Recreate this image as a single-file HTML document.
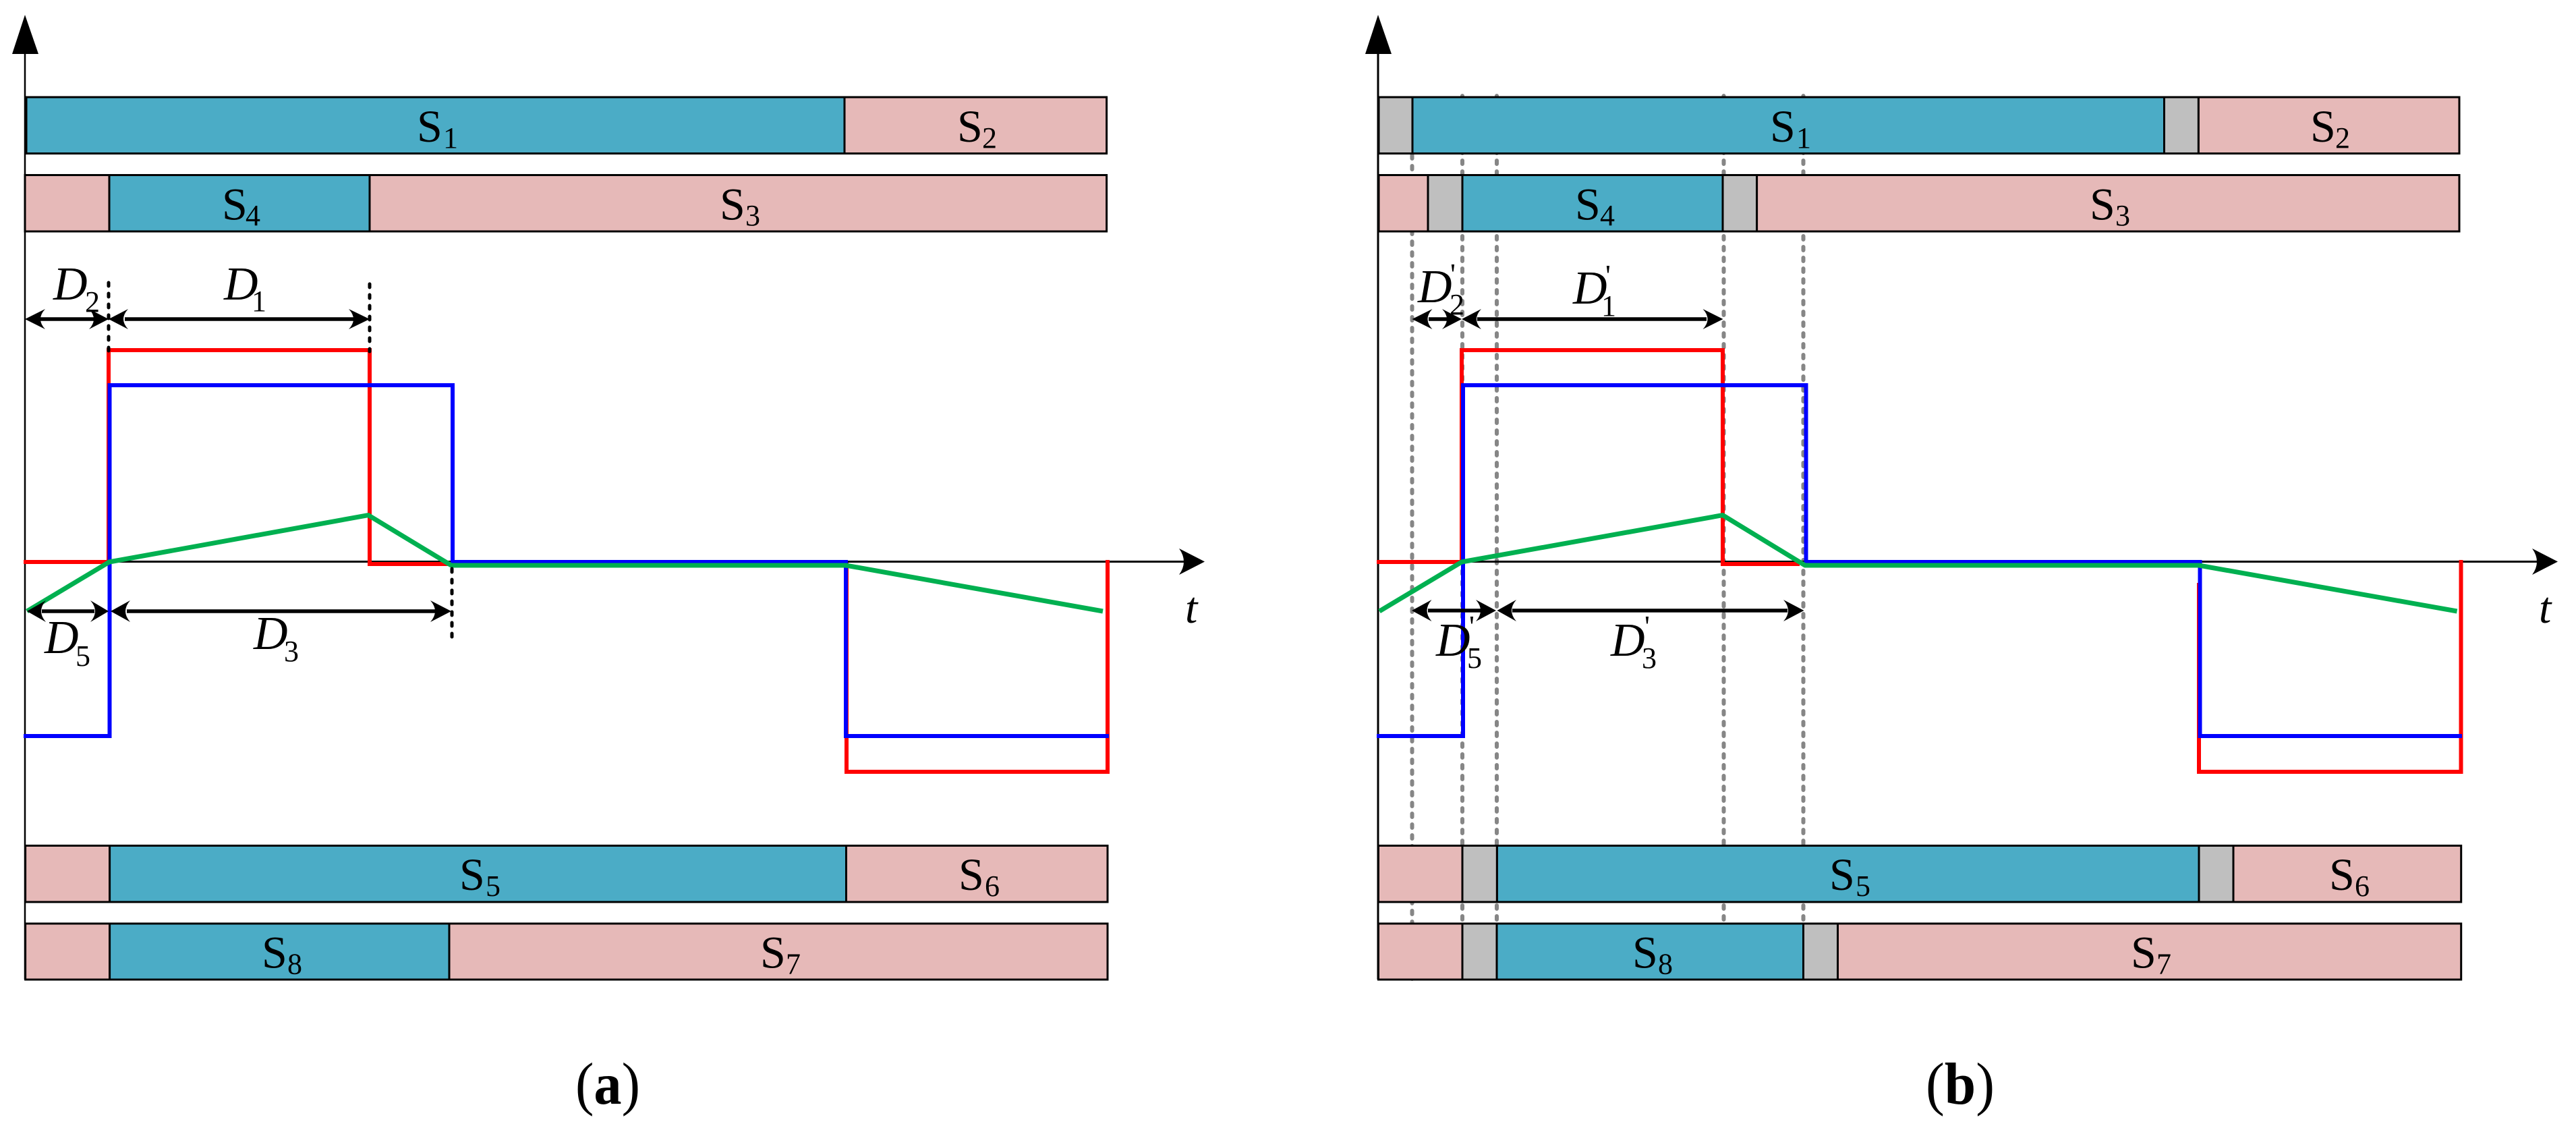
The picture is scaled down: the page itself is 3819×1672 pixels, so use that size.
<!DOCTYPE html>
<html>
<head>
<meta charset="utf-8">
<style>
html,body{margin:0;padding:0;background:#fff;}
svg{display:block;}
text{font-family:"Liberation Serif",serif;fill:#000;}
.s{font-size:68px;}
.n{font-size:44px;}
.d{font-size:70px;font-style:italic;}
.t{font-size:66px;font-style:italic;}
.c{font-size:88px;}
.b{fill:#4BACC6;stroke:#000;stroke-width:3;}
.r{fill:#E6B9B8;stroke:#000;stroke-width:3;}
.g{fill:#BFBFBF;stroke:#000;stroke-width:3;}
.gd{stroke:#868686;stroke-width:6;stroke-dasharray:5 11;stroke-linecap:round;fill:none;}
.kd{stroke:#000;stroke-width:5;stroke-dasharray:5 11;stroke-linecap:round;fill:none;}
.red{stroke:#FF0000;stroke-width:6;fill:none;stroke-linejoin:miter;}
.blue{stroke:#0000FF;stroke-width:6;fill:none;stroke-linejoin:miter;}
.green{stroke:#00B050;stroke-width:7;fill:none;stroke-linejoin:round;}
.ax{stroke:#000;fill:none;}
.dim{stroke:#000;stroke-width:5.5;fill:none;}
</style>
</head>
<body>
<svg width="3819" height="1672" viewBox="0 0 3819 1672" xmlns="http://www.w3.org/2000/svg">
<rect x="0" y="0" width="3819" height="1672" fill="#fff"/>

<!-- grey guides (b) -->
<line class="gd" x1="2093.5" y1="230" x2="2093.5" y2="1456"/>
<line class="gd" x1="2168" y1="142" x2="2168" y2="1368"/>
<line class="gd" x1="2219" y1="142" x2="2219" y2="1368"/>
<line class="gd" x1="2555.5" y1="142" x2="2555.5" y2="1368"/>
<line class="gd" x1="2673.5" y1="142" x2="2673.5" y2="1368"/>

<!-- y axes -->
<line class="ax" stroke-width="2.5" x1="37" y1="78" x2="37" y2="1452"/>
<polygon points="37,22 57,80 18,80" fill="#000"/>
<line class="ax" stroke-width="3" x1="2043" y1="78" x2="2043" y2="1452"/>
<polygon points="2043,22 2063,80 2024,80" fill="#000"/>

<!-- bars left -->
<rect class="b" x="39" y="144" width="1213" height="83.5" stroke-width="4"/>
<rect class="r" x="1252" y="144" width="388.6" height="83.5"/>
<rect class="r" x="37" y="259.5" width="125" height="83.5"/>
<rect class="b" x="162" y="259.5" width="386" height="83.5"/>
<rect class="r" x="548" y="259.5" width="1092.6" height="83.5"/>
<rect class="r" x="37.6" y="1253.5" width="125" height="83.5"/>
<rect class="b" x="162.6" y="1253.5" width="1091.9" height="83.5"/>
<rect class="r" x="1254.5" y="1253.5" width="387.5" height="83.5"/>
<rect class="r" x="37.6" y="1369" width="125" height="83"/>
<rect class="b" x="162.6" y="1369" width="503.4" height="83"/>
<rect class="r" x="666" y="1369" width="976" height="83"/>

<!-- bars right -->
<rect class="g" x="2044" y="144" width="50" height="83.5"/>
<rect class="b" x="2094" y="144" width="1114.5" height="83.5"/>
<rect class="g" x="3208.5" y="144" width="50.9" height="83.5"/>
<rect class="r" x="3259.4" y="144" width="386.6" height="83.5"/>
<rect class="r" x="2044" y="259.5" width="73" height="83.5"/>
<rect class="g" x="2117" y="259.5" width="51" height="83.5"/>
<rect class="b" x="2168" y="259.5" width="386" height="83.5"/>
<rect class="g" x="2554" y="259.5" width="50.6" height="83.5"/>
<rect class="r" x="2604.6" y="259.5" width="1041.4" height="83.5"/>
<rect class="r" x="2043.5" y="1253.5" width="124.5" height="83.5"/>
<rect class="g" x="2168" y="1253.5" width="51.4" height="83.5"/>
<rect class="b" x="2219.4" y="1253.5" width="1040.6" height="83.5"/>
<rect class="g" x="3260" y="1253.5" width="51" height="83.5"/>
<rect class="r" x="3311" y="1253.5" width="337.7" height="83.5"/>
<rect class="r" x="2043.5" y="1369" width="124.5" height="83"/>
<rect class="g" x="2168" y="1369" width="51" height="83"/>
<rect class="b" x="2219" y="1369" width="454.5" height="83"/>
<rect class="g" x="2673.5" y="1369" width="51" height="83"/>
<rect class="r" x="2724.5" y="1369" width="924.2" height="83"/>

<!-- x axes -->
<line class="ax" stroke-width="3" x1="37" y1="832.5" x2="1755" y2="832.5"/>
<path d="M1786,832.5 L1748,813 Q1762,832.5 1748,852 Z" fill="#000"/>
<line class="ax" stroke-width="3" x1="2043" y1="832.5" x2="3761" y2="832.5"/>
<path d="M3792,832.5 L3754,813 Q3768,832.5 3754,852 Z" fill="#000"/>

<!-- waveforms left -->
<polyline class="red" points="35,833 161,833 161,519 548,519 548,836 668,836"/>
<polyline class="red" points="1255,834 1255,1144 1642,1144 1642,830"/>
<polyline class="blue" points="35,1091 162.5,1091 162.5,571 671,571 671,833 1254,833 1254,1091 1644,1091"/>
<polyline class="green" points="40,906 162,833 546,763.6 669,838 1254,838 1635,906"/>

<!-- waveforms right -->
<polyline class="red" points="2041,833 2167,833 2167,519 2554,519 2554,836 2668,836"/>
<polyline class="red" points="3260,864 3260,1144 3648.5,1144 3648.5,830"/>
<polyline class="blue" points="2041,1091 2169,1091 2169,571 2677.5,571 2677.5,833 3261.5,833 3261.5,1091 3650,1091"/>
<polyline class="green" points="2045,906 2167,833 2554,763.6 2676,838 3260,838 3642.6,906"/>

<!-- black dashed -->
<line class="kd" x1="161" y1="419" x2="161" y2="521"/>
<line class="kd" x1="548" y1="421" x2="548" y2="521"/>
<line class="kd" x1="670" y1="843" x2="670" y2="946"/>

<!-- dimension arrows left -->
<line class="dim" x1="60" y1="473" x2="140" y2="473"/>
<path d="M37,473 L67,458 Q53,473 67,488 Z" fill="#000"/>
<path d="M161,473 L132,458 Q146,473 132,488 Z" fill="#000"/>
<line class="dim" x1="185" y1="473" x2="525" y2="473"/>
<path d="M161,473 L190,458 Q176,473 190,488 Z" fill="#000"/>
<path d="M548,473 L517,458 Q531,473 517,488 Z" fill="#000"/>

<line class="dim" x1="62" y1="906" x2="140" y2="906"/>
<path d="M40,906 L68,890 Q54,906 68,922 Z" fill="#000"/>
<path d="M161,906 L134,890 Q148,906 134,922 Z" fill="#000"/>
<line class="dim" x1="188" y1="906" x2="645" y2="906"/>
<path d="M164,906 L193,890 Q179,906 193,922 Z" fill="#000"/>
<path d="M669,906 L638,890 Q652,906 638,922 Z" fill="#000"/>

<!-- dimension arrows right -->
<line class="dim" x1="2118" y1="473" x2="2145" y2="473"/>
<path d="M2093.5,473 L2123.5,458 Q2109.5,473 2123.5,488 Z" fill="#000"/>
<path d="M2167,473 L2138,458 Q2152,473 2138,488 Z" fill="#000"/>
<line class="dim" x1="2190" y1="473" x2="2530" y2="473"/>
<path d="M2167,473 L2196,458 Q2182,473 2196,488 Z" fill="#000"/>
<path d="M2554.5,473 L2524.5,458 Q2538.5,473 2524.5,488 Z" fill="#000"/>

<line class="dim" x1="2117" y1="905" x2="2195" y2="905"/>
<path d="M2093,905 L2122.5,889 Q2108.5,905 2122.5,921 Z" fill="#000"/>
<path d="M2218,905 L2188,889 Q2202,905 2188,921 Z" fill="#000"/>
<line class="dim" x1="2242" y1="905" x2="2650" y2="905"/>
<path d="M2219.5,905 L2248,889 Q2234,905 2248,921 Z" fill="#000"/>
<path d="M2674.5,905 L2644,889 Q2658,905 2644,921 Z" fill="#000"/>

<!-- S labels left -->
<text class="s" x="618" y="210">S</text><text class="n" x="657" y="219">1</text>
<text class="s" x="1419" y="210">S</text><text class="n" x="1456" y="219">2</text>
<text class="s" x="329" y="325.5">S</text><text class="n" x="364" y="334">4</text>
<text class="s" x="1067" y="325.5">S</text><text class="n" x="1105" y="334">3</text>
<text class="s" x="681" y="1319">S</text><text class="n" x="720" y="1328">5</text>
<text class="s" x="1421" y="1319">S</text><text class="n" x="1460" y="1328">6</text>
<text class="s" x="388" y="1434.5">S</text><text class="n" x="426" y="1443.5">8</text>
<text class="s" x="1127" y="1434.5">S</text><text class="n" x="1165" y="1443.5">7</text>

<!-- S labels right -->
<text class="s" x="2624" y="210">S</text><text class="n" x="2663" y="219">1</text>
<text class="s" x="3425" y="210">S</text><text class="n" x="3462" y="219">2</text>
<text class="s" x="2335" y="325.5">S</text><text class="n" x="2372" y="334">4</text>
<text class="s" x="3098" y="325.5">S</text><text class="n" x="3136" y="334">3</text>
<text class="s" x="2712" y="1319">S</text><text class="n" x="2751" y="1328">5</text>
<text class="s" x="3453" y="1319">S</text><text class="n" x="3491" y="1328">6</text>
<text class="s" x="2420" y="1434.5">S</text><text class="n" x="2458" y="1443.5">8</text>
<text class="s" x="3159" y="1434.5">S</text><text class="n" x="3197" y="1443.5">7</text>

<!-- D labels left -->
<text class="d" x="79" y="444">D</text><text class="n" x="126" y="462">2</text>
<text class="d" x="332" y="444">D</text><text class="n" x="373" y="461">1</text>
<text class="d" x="66" y="968">D</text><text class="n" x="112" y="987">5</text>
<text class="d" x="376" y="962">D</text><text class="n" x="421" y="980">3</text>

<!-- D labels right -->
<text class="d" x="2102" y="448">D</text><text class="n" x="2149" y="466">2</text><text class="n" x="2150" y="421">'</text>
<text class="d" x="2332" y="450">D</text><text class="n" x="2374" y="468">1</text><text class="n" x="2380" y="423">'</text>
<text class="d" x="2129" y="972">D</text><text class="n" x="2175" y="990">5</text><text class="n" x="2178" y="943">'</text>
<text class="d" x="2388" y="972">D</text><text class="n" x="2434" y="990">3</text><text class="n" x="2438" y="943">'</text>

<!-- t labels -->
<text class="t" x="1757" y="923">t</text>
<text class="t" x="3764" y="923">t</text>

<!-- captions -->
<text class="c" x="853" y="1636" textLength="96" lengthAdjust="spacingAndGlyphs">(<tspan font-weight="bold">a</tspan>)</text>
<text class="c" x="2855" y="1636" textLength="102" lengthAdjust="spacingAndGlyphs">(<tspan font-weight="bold">b</tspan>)</text>
</svg>
</body>
</html>
